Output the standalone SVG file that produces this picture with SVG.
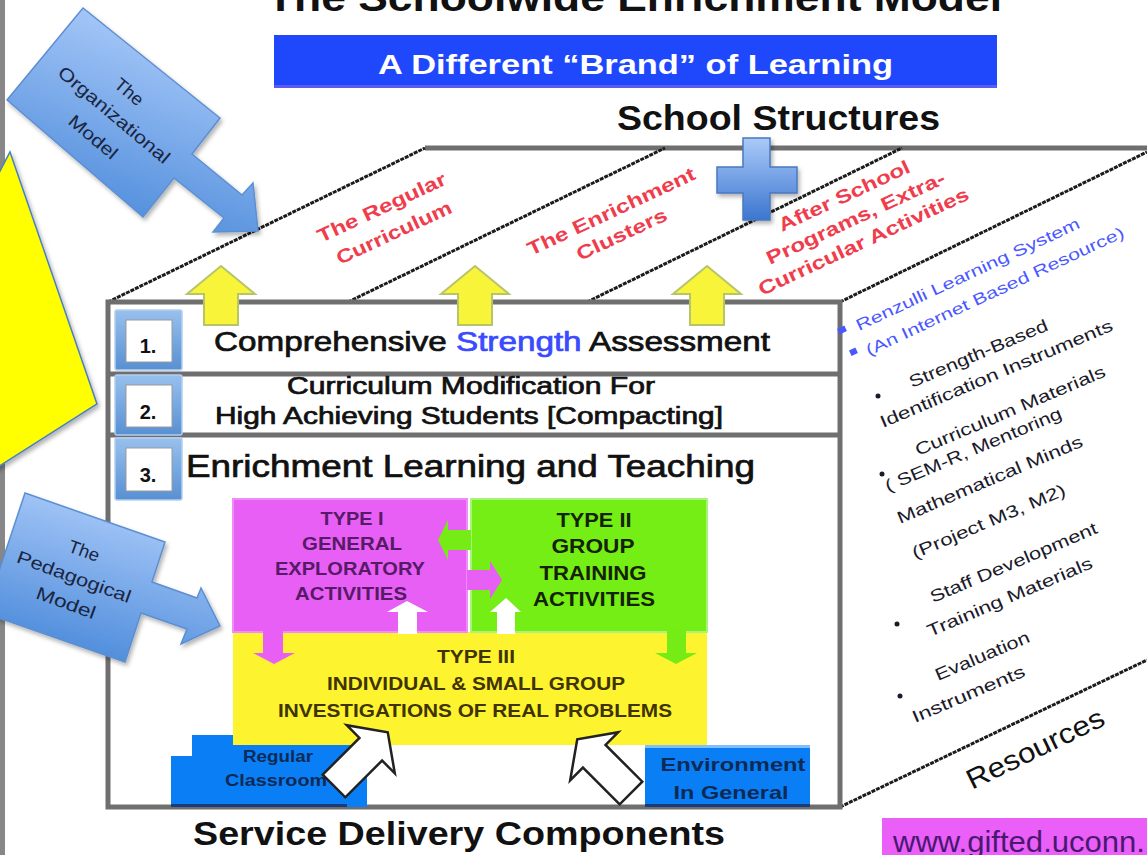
<svg xmlns="http://www.w3.org/2000/svg" width="1147" height="855" viewBox="0 0 1147 855">
  <defs>
    <linearGradient id="calloutGrad" x1="0.7" y1="0" x2="0.3" y2="1">
      <stop offset="0" stop-color="#b2d0fc"/>
      <stop offset="1" stop-color="#4787d9"/>
    </linearGradient>
    <linearGradient id="plusGrad" x1="0" y1="0" x2="0" y2="1">
      <stop offset="0" stop-color="#abcaf8"/>
      <stop offset="1" stop-color="#3b76cf"/>
    </linearGradient>
    <linearGradient id="numGrad" x1="0" y1="0" x2="0" y2="1">
      <stop offset="0" stop-color="#98c0ee"/>
      <stop offset="1" stop-color="#5790d3"/>
    </linearGradient>
    <filter id="shadow" x="-20%" y="-20%" width="150%" height="150%">
      <feDropShadow dx="2" dy="3" stdDeviation="2" flood-color="#000" flood-opacity="0.3"/>
    </filter>
    <polygon id="hollowArrow" points="0,-16 52,-16 52,-34 76,0 52,34 52,16 0,16"/>
  </defs>
  <style>
    text { font-family: "Liberation Sans", Arial, sans-serif; }
    .edge { stroke: #6f6f6f; stroke-width: 5; fill: none; }
    .dash { stroke: #1c1c1c; stroke-width: 3; stroke-dasharray: 4 1; fill: none; }
    .head { font-weight: bold; fill: #111; }
    .row { fill: #111; stroke: #111; stroke-width: 0.7; }
    .num { font-weight: bold; font-size: 20px; fill: #111; text-anchor: middle; }
    .red { fill: #ef3d4d; font-weight: bold; font-size: 19px; }
    .blu { fill: #4a58ff; font-size: 16px; }
    .res { fill: #1a1a2a; font-size: 17px; }
    .callout { fill: url(#calloutGrad); stroke: #5b8fd2; stroke-width: 1.5; }
    .ctext { fill: #1a2540; font-size: 18px; text-anchor: middle; }
    .type { font-weight: bold; text-anchor: middle; }
    .uparrow { fill: #f8f43a; stroke: #b8c46a; stroke-width: 2; }
    .hollow { fill: #fff; stroke: #222; stroke-width: 2.5; }
    .bluebox { fill: #0a7ff5; }
  </style>

  <rect width="1147" height="855" fill="#fff"/>
  <rect x="0" y="0" width="5" height="855" fill="#878787"/>

  <!-- headings -->
  <g id="title">
    <text class="head" x="267" y="11" font-size="38" textLength="735" lengthAdjust="spacingAndGlyphs">The Schoolwide Enrichment Model</text>
  </g>
  <g id="banner">
    <rect x="274" y="35" width="723" height="53" fill="#1f48fd"/>
    <rect x="274" y="85" width="723" height="3" fill="#5c5cf5"/>
    <text x="635.5" y="74" font-size="28" font-weight="bold" fill="#fff" text-anchor="middle" textLength="515" lengthAdjust="spacingAndGlyphs">A Different “Brand” of Learning</text>
  </g>
  <g id="school-structures">
    <text class="head" x="778.5" y="130" font-size="35" text-anchor="middle" textLength="323" lengthAdjust="spacingAndGlyphs">School Structures</text>
  </g>

  <!-- the box: top face, right face, front face -->
  <g id="box">
    <polygon points="108,302 840,302 1147,152 1147,660 840,807 108,807" fill="#fff"/>
    <line class="edge" x1="425" y1="148" x2="1147" y2="148"/>
    <line class="dash" x1="108" y1="302" x2="425" y2="148"/>
    <line class="dash" x1="348" y1="302" x2="665" y2="148"/>
    <line class="dash" x1="587" y1="302" x2="902" y2="148"/>
    <line class="dash" x1="840" y1="302" x2="1147" y2="152"/>
    <line class="dash" x1="840" y1="807" x2="1147" y2="660"/>
    <rect class="edge" x="108" y="302" width="732" height="505"/>
    <line class="edge" x1="108" y1="374" x2="840" y2="374"/>
    <line class="edge" x1="108" y1="435" x2="840" y2="435"/>
  </g>

  <!-- school structure labels on the top face -->
  <g id="regular-curriculum">
    <text class="red" transform="translate(321,243) rotate(-25)" textLength="140" lengthAdjust="spacingAndGlyphs">The Regular</text>
    <text class="red" transform="translate(340,265) rotate(-25)" textLength="125" lengthAdjust="spacingAndGlyphs">Curriculum</text>
  </g>
  <g id="enrichment-clusters">
    <text class="red" transform="translate(531,256) rotate(-25)" textLength="183" lengthAdjust="spacingAndGlyphs">The Enrichment</text>
    <text class="red" transform="translate(580,261) rotate(-25)" textLength="98" lengthAdjust="spacingAndGlyphs">Clusters</text>
  </g>
  <g id="after-school">
    <text class="red" transform="translate(782,232) rotate(-25)" textLength="143" lengthAdjust="spacingAndGlyphs">After School</text>
    <text class="red" transform="translate(770,265) rotate(-25)" textLength="195" lengthAdjust="spacingAndGlyphs">Programs, Extra-</text>
    <text class="red" transform="translate(762,296) rotate(-25)" textLength="230" lengthAdjust="spacingAndGlyphs">Curricular Activities</text>
  </g>
  <g id="plus" filter="url(#shadow)">
    <polygon points="743,138 770,138 770,167 797,167 797,193 770,193 770,220 743,220 743,193 717,193 717,167 743,167" fill="url(#plusGrad)" stroke="#4a78c0" stroke-width="1.5"/>
  </g>

  <!-- resources on the right face -->
  <g id="resources">
    <rect x="838" y="327" width="8" height="6" fill="#4a58ff" transform="rotate(-25 842 330)"/>
    <rect x="850" y="349" width="7" height="6" fill="#4a58ff" transform="rotate(-25 853 352)"/>
    <text class="blu" transform="translate(859,331) rotate(-25)" textLength="245" lengthAdjust="spacingAndGlyphs">Renzulli Learning System</text>
    <text class="blu" transform="translate(869,356) rotate(-25)" textLength="283" lengthAdjust="spacingAndGlyphs">(An Internet Based Resource)</text>
    <circle cx="878" cy="396" r="2.5" fill="#1a1a2a"/>
    <text class="res" transform="translate(912,388) rotate(-23)" textLength="149" lengthAdjust="spacingAndGlyphs">Strength-Based</text>
    <text class="res" transform="translate(883,428) rotate(-23)" textLength="251" lengthAdjust="spacingAndGlyphs">Identification Instruments</text>
    <text class="res" transform="translate(918,456) rotate(-23)" textLength="205" lengthAdjust="spacingAndGlyphs">Curriculum  Materials</text>
    <circle cx="882" cy="474" r="2.5" fill="#1a1a2a"/>
    <text class="res" transform="translate(888,492) rotate(-23)" textLength="190" lengthAdjust="spacingAndGlyphs">( SEM-R, Mentoring</text>
    <text class="res" transform="translate(900,524) rotate(-23)" textLength="200" lengthAdjust="spacingAndGlyphs">Mathematical Minds</text>
    <text class="res" transform="translate(915,559) rotate(-23)" textLength="165" lengthAdjust="spacingAndGlyphs">(Project M3, M2)</text>
    <circle cx="897" cy="624" r="2.5" fill="#1a1a2a"/>
    <text class="res" transform="translate(933,603) rotate(-23)" textLength="180" lengthAdjust="spacingAndGlyphs">Staff Development</text>
    <text class="res" transform="translate(930,637) rotate(-23)" textLength="178" lengthAdjust="spacingAndGlyphs">Training Materials</text>
    <circle cx="900" cy="696" r="2.5" fill="#1a1a2a"/>
    <text class="res" transform="translate(938,681) rotate(-23)" textLength="101" lengthAdjust="spacingAndGlyphs">Evaluation</text>
    <text class="res" transform="translate(915,723) rotate(-23)" textLength="121" lengthAdjust="spacingAndGlyphs">Instruments</text>
    <text transform="translate(972,790) rotate(-26)" font-size="28" fill="#111" textLength="150" lengthAdjust="spacingAndGlyphs">Resources</text>
  </g>

  <!-- service delivery rows -->
  <g id="row-1">
    <rect x="115" y="310" width="67" height="60" rx="2" fill="url(#numGrad)" stroke="#b2cfee" stroke-width="1.5"/>
    <rect x="126" y="320" width="46" height="42" fill="#fff" stroke="#9a9a9a"/>
    <text class="num" x="148" y="353">1.</text>
    <text class="row" x="214" y="351" font-size="27" textLength="556" lengthAdjust="spacingAndGlyphs">Comprehensive <tspan fill="#3a4aff" stroke="#3a4aff">Strength</tspan> Assessment</text>
  </g>
  <g id="row-2">
    <rect x="115" y="375" width="67" height="60" rx="2" fill="url(#numGrad)" stroke="#b2cfee" stroke-width="1.5"/>
    <rect x="126" y="385" width="46" height="42" fill="#fff" stroke="#9a9a9a"/>
    <text class="num" x="148" y="419">2.</text>
    <text class="row" x="287" y="394" font-size="23" textLength="368" lengthAdjust="spacingAndGlyphs">Curriculum Modification For</text>
    <text class="row" x="215" y="424" font-size="23" textLength="508" lengthAdjust="spacingAndGlyphs">High Achieving Students [Compacting]</text>
  </g>
  <g id="row-3">
    <rect x="115" y="438" width="67" height="62" rx="2" fill="url(#numGrad)" stroke="#b2cfee" stroke-width="1.5"/>
    <rect x="126" y="448" width="46" height="43" fill="#fff" stroke="#9a9a9a"/>
    <text class="num" x="148" y="482">3.</text>
    <text class="row" x="186" y="477" font-size="31" textLength="569" lengthAdjust="spacingAndGlyphs">Enrichment Learning and Teaching</text>
  </g>

  <!-- enrichment types -->
  <g id="regular-classroom">
    <rect class="bluebox" x="192" y="735" width="175" height="72"/>
    <rect class="bluebox" x="171" y="756" width="196" height="51"/>
    <rect x="171" y="804" width="176" height="3" fill="#173c78"/>
    <text class="type" x="278" y="762" font-size="16" fill="#0d2a55" textLength="70" lengthAdjust="spacingAndGlyphs">Regular</text>
    <text class="type" x="276" y="786" font-size="16" fill="#0d2a55" textLength="102" lengthAdjust="spacingAndGlyphs">Classroom</text>
  </g>
  <g id="type-3">
    <rect x="233" y="632" width="474" height="113" fill="#fdf42f"/>
    <text class="type" x="476" y="663" font-size="18" fill="#3f3300" textLength="78" lengthAdjust="spacingAndGlyphs">TYPE III</text>
    <text class="type" x="476" y="690" font-size="18" fill="#3f3300" textLength="298" lengthAdjust="spacingAndGlyphs">INDIVIDUAL &amp; SMALL GROUP</text>
    <text class="type" x="475" y="717" font-size="18" fill="#3f3300" textLength="394" lengthAdjust="spacingAndGlyphs">INVESTIGATIONS OF REAL PROBLEMS</text>
  </g>
  <g id="type-1">
    <rect x="233" y="499" width="234" height="133" fill="#e85ff5" stroke="#f08cf9" stroke-width="2"/>
    <text class="type" x="352" y="525" font-size="18" fill="#561a66" textLength="63" lengthAdjust="spacingAndGlyphs">TYPE I</text>
    <text class="type" x="352" y="550" font-size="18" fill="#561a66" textLength="100" lengthAdjust="spacingAndGlyphs">GENERAL</text>
    <text class="type" x="350" y="575" font-size="18" fill="#561a66" textLength="150" lengthAdjust="spacingAndGlyphs">EXPLORATORY</text>
    <text class="type" x="351" y="600" font-size="18" fill="#561a66" textLength="112" lengthAdjust="spacingAndGlyphs">ACTIVITIES</text>
  </g>
  <g id="type-2">
    <rect x="471" y="499" width="236" height="133" fill="#75ee16" stroke="#a8f37c" stroke-width="2"/>
    <text class="type" x="594" y="527" font-size="20" fill="#142200" textLength="75" lengthAdjust="spacingAndGlyphs">TYPE II</text>
    <text class="type" x="593" y="553" font-size="20" fill="#142200" textLength="83" lengthAdjust="spacingAndGlyphs">GROUP</text>
    <text class="type" x="593" y="580" font-size="20" fill="#142200" textLength="107" lengthAdjust="spacingAndGlyphs">TRAINING</text>
    <text class="type" x="594" y="606" font-size="20" fill="#142200" textLength="122" lengthAdjust="spacingAndGlyphs">ACTIVITIES</text>
  </g>
  <g id="environment">
    <rect class="bluebox" x="645" y="745" width="165" height="62"/>
    <rect x="645" y="745" width="165" height="3" fill="#7fbfff"/>
    <rect x="645" y="804" width="165" height="3" fill="#173c78"/>
    <text class="type" x="733" y="771" font-size="19" fill="#0d2a55" textLength="145" lengthAdjust="spacingAndGlyphs">Environment</text>
    <text class="type" x="731" y="799" font-size="19" fill="#0d2a55" textLength="115" lengthAdjust="spacingAndGlyphs">In General</text>
  </g>

  <!-- arrows between the parts -->
  <g id="connectors">
    <polygon class="uparrow" points="221,266 255,294 238,294 238,325 204,325 204,294 187,294"/>
    <polygon class="uparrow" points="475,266 509,294 492,294 492,325 458,325 458,294 441,294"/>
    <polygon class="uparrow" points="707,266 741,294 724,294 724,325 690,325 690,294 673,294"/>
    <polygon points="438,540 448,520 448,530 471,530 471,550 448,550 448,560" fill="#76ec16"/>
    <polygon points="467,570 490,570 490,561 502,580 490,599 490,590 467,590" fill="#e85ff5"/>
    <polygon points="407,601 428,612 417,612 417,634 398,634 398,612 387,612" fill="#fff"/>
    <polygon points="506,598 521,612 515,612 515,634 497,634 497,612 490,612" fill="#fff"/>
    <polygon points="263,630 283,630 283,653 295,653 274,664 253,653 263,653" fill="#e85ff5"/>
    <polygon points="667,630 686,630 686,653 697,653 676,664 655,653 667,653" fill="#76ec16"/>
    <use href="#hollowArrow" class="hollow" transform="translate(334,786) rotate(-45)"/>
    <use href="#hollowArrow" class="hollow" transform="translate(631,793) rotate(-135)"/>
  </g>

  <g id="service-delivery">
    <text class="head" x="459" y="845" font-size="33" text-anchor="middle" textLength="532" lengthAdjust="spacingAndGlyphs">Service Delivery Components</text>
  </g>
  <g id="website">
    <rect x="882" y="818" width="265" height="37" fill="#e95ff8"/>
    <text x="893" y="852" font-size="29" fill="#4a1870" textLength="252" lengthAdjust="spacingAndGlyphs">www.gifted.uconn.</text>
  </g>

  <!-- side callouts -->
  <g id="yellow-panel" filter="url(#shadow)">
    <polygon points="-15,200 10,152 97,404 -10,472" fill="#ffff00" stroke="#4a80c0" stroke-width="1.5"/>
  </g>
  <g id="organizational-model">
    <polygon class="callout" filter="url(#shadow)" points="83,8 220,118 192,154 242,195 253,183 258,231 213,232 224,218 174,178 143,217 7,100"/>
    <text class="ctext" transform="translate(129,92) rotate(40)" y="6" textLength="32" lengthAdjust="spacingAndGlyphs">The</text>
    <text class="ctext" transform="translate(114,115) rotate(40)" y="6" textLength="140" lengthAdjust="spacingAndGlyphs">Organizational</text>
    <text class="ctext" transform="translate(93,137) rotate(40)" y="6" textLength="58" lengthAdjust="spacingAndGlyphs">Model</text>
  </g>
  <g id="pedagogical-model">
    <polygon class="callout" filter="url(#shadow)" points="25,493 165,542 152,582 197,598 201,588 220,626 181,644 187,629 141,613 125,662 -15,613"/>
    <text class="ctext" transform="translate(84,551) rotate(20)" y="6" textLength="32" lengthAdjust="spacingAndGlyphs">The</text>
    <text class="ctext" transform="translate(74,577) rotate(20)" y="6" textLength="120" lengthAdjust="spacingAndGlyphs">Pedagogical</text>
    <text class="ctext" transform="translate(66,603) rotate(20)" y="6" textLength="62" lengthAdjust="spacingAndGlyphs">Model</text>
  </g>
</svg>
